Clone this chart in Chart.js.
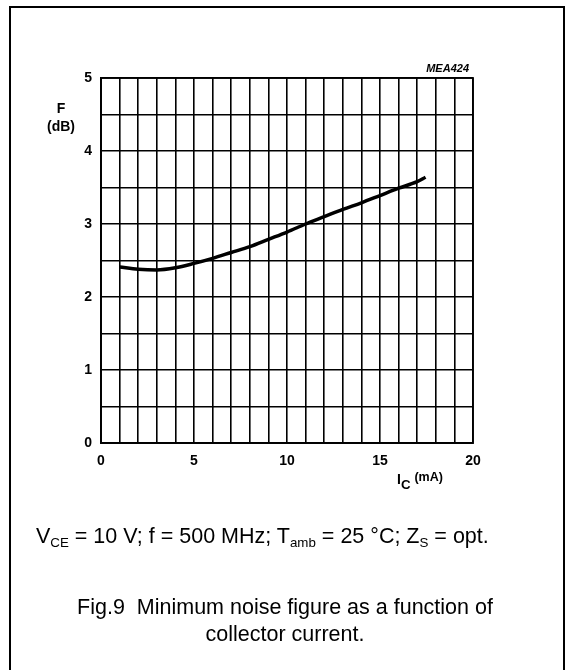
<!DOCTYPE html>
<html>
<head>
<meta charset="utf-8">
<script src="https://cdn.jsdelivr.net/npm/chart.js@4.4.0/dist/chart.umd.min.js"></script>
<style>
  body { margin: 0; background: #fff; }
  #wrap { position: relative; width: 566px; height: 670px; overflow: hidden; font-family: "Liberation Sans", Arial, sans-serif; color: #000; }
  #frame { position: absolute; left: 9px; top: 6px; width: 552px; height: 700px; border: 2px solid #000; }
  canvas { position: absolute; left: 0; top: 0; }
  .lbl { position: absolute; white-space: nowrap; line-height: 1; }
  sub { font-size: 0.62em; vertical-align: -0.3em; line-height: 0; }
</style>
</head>
<body>
<div id="wrap">
  <div id="frame"></div>
  <canvas id="myChart" width="566" height="670"></canvas>
  <div class="lbl" style="left:50px;top:101px;width:22px;text-align:center;font-weight:bold;font-size:14px;">F</div>
  <div class="lbl" style="left:44px;top:119px;width:34px;text-align:center;font-weight:bold;font-size:14px;">(dB)</div>
  <div class="lbl" style="left:400px;top:63px;width:69px;text-align:right;font-weight:bold;font-style:italic;font-size:11px;">MEA424</div>
  <div class="lbl" style="left:397px;top:471px;font-size:14px;font-weight:bold;">I<sub style="font-size:0.95em;vertical-align:-0.45em;">C</sub> <span style="font-size:12.5px;vertical-align:0.2em;">(mA)</span></div>
  <div class="lbl" style="left:36px;top:526px;font-size:21.5px;">V<sub>CE</sub> = 10 V; f = 500 MHz; T<sub>amb</sub> = 25 °C; Z<sub>S</sub> = opt.</div>
  <div class="lbl" style="left:35px;top:594px;width:500px;text-align:center;font-size:21.5px;line-height:27px;white-space:normal;">Fig.9&nbsp; Minimum noise figure as a function of<br>collector current.</div>
</div>
<script>
// collector current (mA) and minimum noise figure (dB)
var currentMA = [1, 2, 3, 4, 5, 6, 7, 8, 9, 10, 11, 12, 13, 14, 15, 16, 17, 17.45];
var noiseDB = [2.41, 2.38, 2.37, 2.40, 2.46, 2.53, 2.61, 2.69, 2.79, 2.89, 3.0, 3.10, 3.2, 3.29, 3.39, 3.49, 3.58, 3.64];
var xTickLabels = [0, 5, 10, 15, 20];
var yTickLabels = [0, 1, 2, 3, 4, 5];

var points = currentMA.map(function (x, i) { return { x: x, y: noiseDB[i] }; });

var ctx = document.getElementById('myChart').getContext('2d');
var myChart = new Chart(ctx, {
    type: 'scatter',
    data: {
        datasets: [{
            label: 'F',
            data: points,
            showLine: true,
            borderColor: '#000',
            borderWidth: 3.5,
            pointRadius: 0,
            cubicInterpolationMode: 'monotone'
        }]
    },
    options: {
        responsive: false,
        animation: false,
        layout: { padding: { left: 0, top: 78, right: 93, bottom: 197 } },
        plugins: { legend: { display: false }, tooltip: { enabled: false } },
        scales: {
            x: {
                type: 'linear',
                min: 0, max: 20,
                afterFit: function (s) { s.height = 30; },
                border: { color: '#000', width: 1.8 },
                grid: { color: '#000', lineWidth: 1.6, drawTicks: false },
                ticks: {
                    stepSize: 1, padding: 10, maxRotation: 0, autoSkip: false,
                    color: '#000', font: { family: 'Liberation Sans', size: 14, weight: 'bold' },
                    callback: function (v) { return xTickLabels.indexOf(v) >= 0 ? String(v) : ''; }
                }
            },
            y: {
                min: 0, max: 5,
                afterFit: function (s) { s.width = 101; },
                border: { color: '#000', width: 1.8 },
                grid: { color: '#000', lineWidth: 1.6, drawTicks: false },
                ticks: {
                    stepSize: 0.5, padding: 9, autoSkip: false,
                    color: '#000', font: { family: 'Liberation Sans', size: 14, weight: 'bold' },
                    callback: function (v) { return yTickLabels.indexOf(v) >= 0 ? String(v) : ''; }
                }
            }
        }
    },
    plugins: [{
        id: 'frameTop',
        afterDraw: function (chart) {
            var a = chart.chartArea, c = chart.ctx;
            c.save();
            c.strokeStyle = '#000';
            c.lineWidth = 1.8;
            c.strokeRect(a.left, a.top, a.right - a.left, a.bottom - a.top);
            c.restore();
        }
    }]
});
</script>
</body>
</html>
